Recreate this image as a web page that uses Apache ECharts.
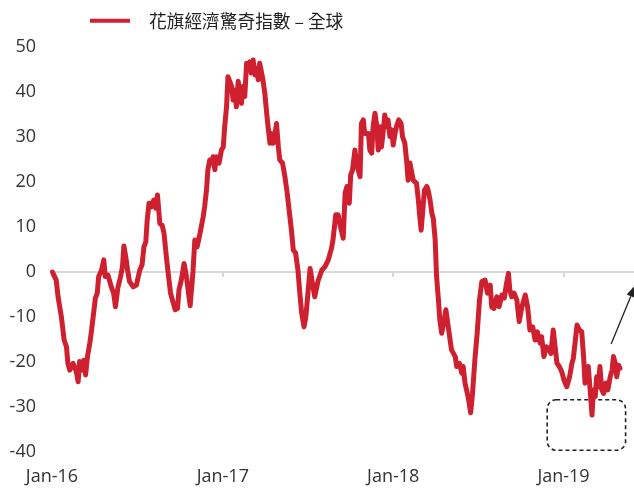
<!DOCTYPE html>
<html>
<head>
<meta charset="utf-8">
<script src="https://cdn.jsdelivr.net/npm/echarts@6/dist/echarts.min.js"></script>
<style>html,body{margin:0;padding:0;background:#fff}#c{width:634px;height:489px}</style>
</head>
<body>
<div id="c"></div>
<script>
// Days since 2016-01-01
const dayOffsets = [
  1,9,13,20,26,31,34,38,45,52,
  56,59,64,68,72,76,81,84,90,93,
  97,100,106,111,114,120,127,132,136,141,
  147,151,154,158,162,166,174,181,188,193,
  197,201,204,208,213,218,222,226,231,236,
  240,245,249,254,259,264,269,272,277,283,
  288,296,302,306,311,315,320,324,327,331,
  334,338,342,345,349,352,358,363,367,370,
  374,377,381,385,388,392,395,399,402,406,
  409,413,417,420,424,427,431,435,438,442,
  445,449,452,456,460,463,467,470,474,477,
  481,485,488,494,499,504,508,513,517,522,
  527,531,535,540,544,549,553,558,563,570,
  578,585,592,599,602,608,613,618,624,628,
  632,637,640,644,649,653,656,660,663,667,
  670,678,681,685,688,692,696,699,703,706,
  710,713,717,720,724,728,731,735,738,743,
  748,751,756,760,763,767,771,774,778,781,
  785,788,791,794,798,803,806,810,814,817,
  821,824,828,831,835,838,844,849,856,864,
  867,873,878,881,885,890,894,897,901,906,
  911,916,921,928,933,939,942,947,953,958,
  964,969,974,978,981,985,990,996,1001,1007,
  1014,1019,1024,1030,1035,1040,1046,1049,1054,1059,
  1064,1069,1074,1078,1082,1087,1092,1097,1103,1109,
  1114,1117,1121,1125,1130,1135,1139,1142,1146,1149,
  1153,1157,1160,1164,1167,1171,1174,1178,1182,1187,
  1191,1196,1200,1203,1207,1210,1214,1217
];
const surpriseValues = [
  0,-1.8,-5.5,-9.9,-15.1,-16.6,-20.3,-21.8,-20.3,-22.1,
  -24.4,-19.9,-21.8,-19.6,-22.9,-18.8,-15.8,-13.6,-8.4,-5.8,
  -4.7,-1.0,0.4,2.7,-1.0,-0.7,-3.3,-4.7,-7.7,-3.6,
  -1.0,1.2,5.8,3.4,0.4,-2.1,-3.3,-2.9,0.4,1.6,
  5.6,6.7,11.6,15.3,14.5,16,14.2,17.1,10.8,10.4,
  8.6,3.4,-0.3,-4.7,-6.6,-8.4,-8.1,-4.0,-1.8,1.9,
  -1.0,-7.5,0,7.1,5.6,7.5,10.1,12.3,14.5,18.2,
  22.7,24.9,24.2,25.6,22.7,25.6,24.2,27.1,27.8,32.3,
  36.7,43.4,43.4,41.2,38.2,40.4,36.7,42.4,39,37.5,
  41.2,39,46.4,44.9,46.7,44.2,47.1,43.8,45.3,42.7,
  46.4,46,42.7,39.7,35.3,32.3,28.6,30.8,28.6,30.1,
  33,27.8,24.9,24.2,21.2,17.5,13.8,9.3,4.9,4.2,
  0.4,-4.7,-9.2,-12.2,-9.9,-4.0,0.8,-2.5,-5.5,-2,
  0.4,1.2,2.7,5.3,7.1,12.7,12.7,10.1,7.5,17.5,
  19,15.3,21.6,22.7,27.1,23.8,22.7,21.2,33,33.8,
  30.8,30.8,27.1,26.4,32.3,35.3,32.3,27.1,32.3,27.8,
  31.6,34.9,32.3,33.8,30.1,31.6,28.2,30.8,32.3,33.8,
  33,30.1,28.6,24.5,20.4,24.2,23.8,20.4,20.1,19.7,
  16,12.3,9.3,9.3,18.2,19,18.2,16,13,11.9,
  7.1,-1.0,-6.2,-10.7,-13.6,-14.0,-8.4,-12.2,-17.3,-18.8,
  -21,-20.3,-22.5,-21,-24.7,-27,-29.2,-31.3,-27,-19.6,
  -13.6,-6.2,-2.1,-1.8,-4.7,-2.9,-7.7,-8.1,-5.5,-7.7,
  -5.1,-5.8,-2.5,-0.3,-4.0,-5.5,-4.7,-6.2,-11,-7.7,
  -5.1,-7.7,-12.9,-12.2,-15.1,-13.3,-15.8,-14.4,-18.8,-16.6,
  -17,-18.1,-12.9,-16.6,-20.3,-21,-22.1,-24,-25.5,-23.3,
  -20.3,-19.2,-19.6,-11.8,-12.9,-13.3,-18.8,-24.7,-22.5,-21,
  -26.2,-31.8,-26.2,-27.7,-23.3,-25.5,-21,-26.2,-27,-24.7,
  -26.2,-23.3,-21.8,-18.8,-20.3,-23.3,-20.7,-21.4
];
const tickDays = [0, 366, 731, 1096];
const tickLabels = ['Jan-16', 'Jan-17', 'Jan-18', 'Jan-19'];
const seriesName = '花旗經濟驚奇指數 – 全球';
const axisDayMax = 1247;
// annotation region (data units)
const boxDays = [1061, 1229];
const boxValues = [-28.4, -39.6];
const arrowFrom = [1198, -16];
const arrowTo = [1250, -2.9];

const chart = echarts.init(document.getElementById('c'), null, {renderer: 'canvas'});
const lineData = dayOffsets.map((d, i) => [d, surpriseValues[i]]);
const labelFont = {fontFamily: '"Open Sans", sans-serif', fontSize: 18, color: '#333'};

chart.setOption({
  animation: false,
  grid: {left: 52, right: 0, top: 47, bottom: 37, containLabel: false},
  legend: {
    show: true, left: 90, top: 12, padding: 0, icon: 'rect', itemWidth: 40, itemHeight: 4,
    textStyle: {fontFamily: '"Noto Sans CJK TC", sans-serif', fontSize: 17.7, color: '#222', padding: [0, 0, 0, 14]},
    data: [seriesName]
  },
  xAxis: [
    {
      type: 'value', min: 0, max: axisDayMax,
      axisLine: {show: true, onZero: true, lineStyle: {color: '#d9d9d9', width: 2}},
      axisTick: {show: true, customValues: tickDays, length: 5, lineStyle: {color: '#d9d9d9', width: 2}},
      axisLabel: {show: false},
      splitLine: {show: false}
    },
    {
      type: 'value', min: 0, max: axisDayMax, position: 'bottom',
      axisLine: {show: false, onZero: false},
      axisTick: {show: false},
      axisLabel: Object.assign({show: true, customValues: tickDays, margin: 16,
        formatter: v => tickLabels[tickDays.indexOf(v)] || ''}, labelFont),
      splitLine: {show: false}
    }
  ],
  yAxis: {
    type: 'value', min: -40, max: 50, interval: 10,
    axisLine: {show: false}, axisTick: {show: false}, splitLine: {show: false},
    axisLabel: Object.assign({margin: 16}, labelFont)
  },
  series: [{
    name: seriesName, type: 'line', xAxisIndex: 0, data: lineData,
    showSymbol: false, symbol: 'none',
    lineStyle: {color: '#cf2030', width: 5, join: 'round', cap: 'round'},
    itemStyle: {color: '#cf2030'}
  }]
});

const p1 = chart.convertToPixel({xAxisIndex: 0, yAxisIndex: 0}, [boxDays[0], boxValues[0]]);
const p2 = chart.convertToPixel({xAxisIndex: 0, yAxisIndex: 0}, [boxDays[1], boxValues[1]]);
const a0 = chart.convertToPixel({xAxisIndex: 0, yAxisIndex: 0}, arrowFrom);
const a1 = chart.convertToPixel({xAxisIndex: 0, yAxisIndex: 0}, arrowTo);
const dx = a1[0] - a0[0], dy = a1[1] - a0[1];
const len = Math.sqrt(dx * dx + dy * dy);
const ux = dx / len, uy = dy / len;
const headLen = 12, headHalf = 4.5;
const bx = a1[0] - ux * headLen, by = a1[1] - uy * headLen;
const px = -uy, py = ux;

chart.setOption({
  graphic: [
    {
      type: 'rect', silent: true,
      shape: {x: p1[0], y: p1[1], width: p2[0] - p1[0], height: p2[1] - p1[1], r: 9},
      style: {fill: 'none', stroke: '#222', lineWidth: 1.6, lineDash: [4, 3]}
    },
    {
      type: 'line', silent: true,
      shape: {x1: a0[0], y1: a0[1], x2: bx, y2: by},
      style: {stroke: '#222', lineWidth: 1.3}
    },
    {
      type: 'polygon', silent: true,
      shape: {points: [[a1[0], a1[1]], [bx + px * headHalf, by + py * headHalf], [bx - px * headHalf, by - py * headHalf]]},
      style: {fill: '#222'}
    }
  ]
});
</script>
</body>
</html>
